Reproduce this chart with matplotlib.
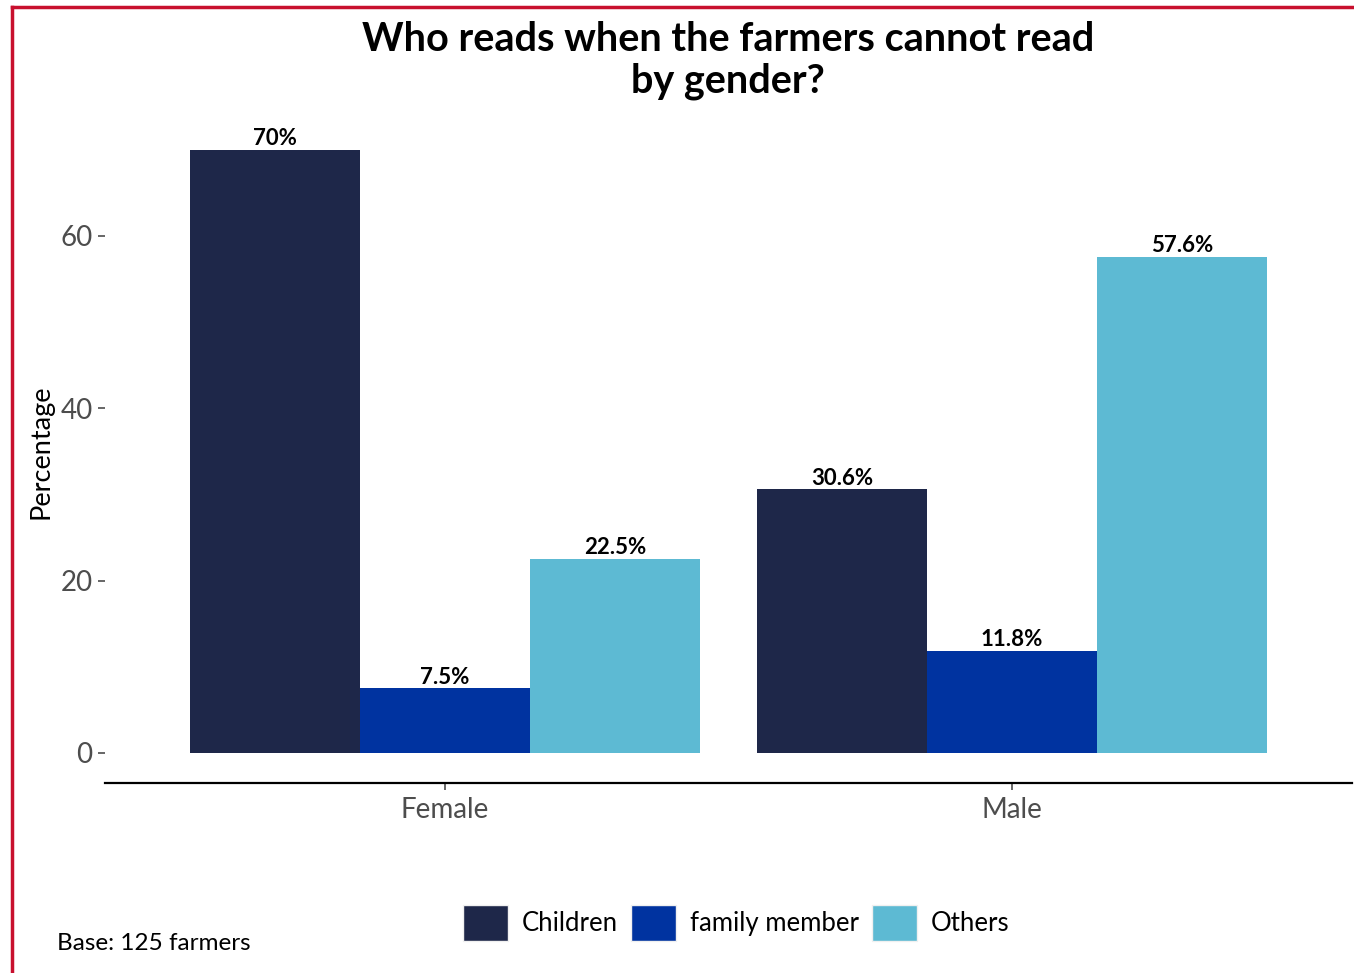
import matplotlib
matplotlib.use("Agg")
import matplotlib.pyplot as plt
from matplotlib.patches import Patch
from matplotlib.lines import Line2D
import numpy as np

plt.rcParams['font.family'] = ['Lato', 'DejaVu Sans']

genders = ["Female", "Male"]
readers = ["Children", "family member", "Others"]
children = [70.0, 30.6]
family_member = [7.5, 11.8]
others = [22.5, 57.6]
value_labels = [["70%", "30.6%"], ["7.5%", "11.8%"], ["22.5%", "57.6%"]]
colors = ["#1E2749", "#0033A0", "#5DBAD3"]

W, H = 1354, 973
fig = plt.figure(figsize=(W / 100, H / 100), dpi=100)
ax = fig.add_axes([105 / W, (H - 783) / H, (1352 - 105) / W, (783 - 119.6) / H])

x = np.arange(1, len(genders) + 1)
group_w = 0.9
bar_w = group_w / len(readers)
series = [children, family_member, others]
for i, (vals, col) in enumerate(zip(series, colors)):
    pos = x - group_w / 2 + bar_w * (i + 0.5)
    ax.bar(pos, vals, width=bar_w, color=col, label=readers[i], linewidth=0)
    for p, v, lab in zip(pos, vals, value_labels[i]):
        ax.annotate(lab, (p, v), xytext=(0, 0.5), textcoords="offset points",
                    ha="center", va="bottom", fontsize=16, fontweight="bold",
                    color="black")

ax.set_xlim(0.4, 2.6)
ax.set_ylim(-3.5, 73.5)
ax.set_yticks([0, 20, 40, 60])
ax.set_xticks(x)
ax.set_xticklabels(genders)

for s in ["top", "right", "left"]:
    ax.spines[s].set_visible(False)
ax.spines["bottom"].set_linewidth(1.6)
ax.spines["bottom"].set_color("black")

ax.tick_params(axis="y", length=5, width=1.2, colors="#4D4D4D", labelsize=20, pad=4)
ax.tick_params(axis="x", length=5, width=1.2, colors="#4D4D4D", labelsize=20, pad=5)
ax.set_ylabel("Percentage", fontsize=19.5, color="black", labelpad=5)

fig.suptitle("Who reads when the farmers cannot read\nby gender?", x=728 / W, y=1 - 21 / H,
             fontsize=28.5, fontweight="bold", va="top", linespacing=1.15)

handles = [Patch(facecolor=c, edgecolor="#F0F0F0", linewidth=1) for c in colors]
fig.legend(handles, readers, loc="center", bbox_to_anchor=(736 / W, 1 - 923 / H),
           ncol=3, frameon=False, fontsize=18.5, handlelength=1.75, handleheight=1.75,
           handletextpad=0.55, columnspacing=0.5)

fig.text(57 / W, 1 - 944 / H, "Base: 125 farmers", fontsize=17.5, va="center", ha="left")

# red frame along the top and left edges
red = "#C8102E"
fig.add_artist(Line2D([12 / W, 12 / W], [0, 1 - 7 / H], color=red, linewidth=2.5,
                      transform=fig.transFigure))
fig.add_artist(Line2D([12 / W, 1], [1 - 7 / H, 1 - 7 / H], color=red, linewidth=2.5,
                      transform=fig.transFigure))

fig.savefig("out.png", dpi=100, facecolor="white")
